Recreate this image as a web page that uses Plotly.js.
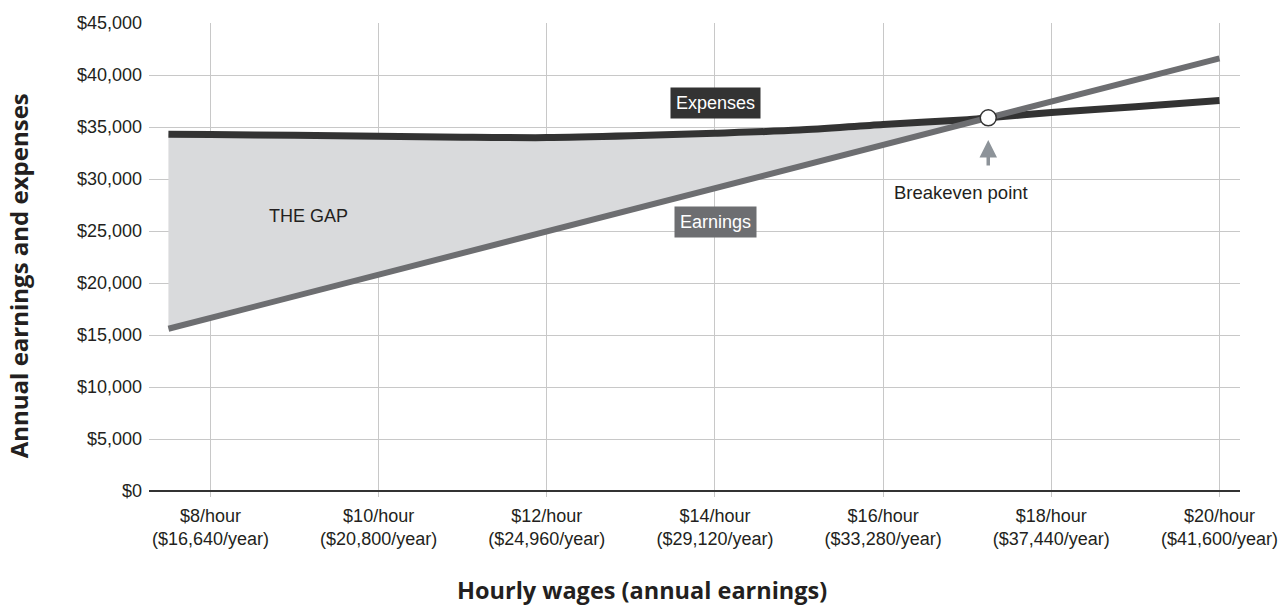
<!DOCTYPE html>
<html>
<head>
<meta charset="utf-8">
<script src="https://cdn.plot.ly/plotly-3.0.1.min.js"></script>
<style>html,body{margin:0;padding:0;background:#fff;}#chart{width:1281px;height:606px;}</style>
</head>
<body>
<div id="chart"></div>
<script>
// Hourly wage points (x)
const hourly = [7.5, 8, 9, 10, 11, 12, 13, 14, 15, 16, 17, 17.25, 18, 19, 20];
// Annual earnings
const earnings = [15600, 16640, 18720, 20800, 22880, 24960, 27040, 29120, 31200, 33280, 35360, 35880, 37440, 39520, 41600];
// Annual expenses
const expenses = [34300, 34280, 34200, 34120, 34020, 33980, 34150, 34400, 34700, 35250, 35700, 35880, 36400, 36950, 37550];
// Gap region (up to breakeven)
const gapHourly = [7.5, 8, 9, 10, 11, 12, 13, 14, 15, 16, 17, 17.25];
const gapEarnings = [15600, 16640, 18720, 20800, 22880, 24960, 27040, 29120, 31200, 33280, 35360, 35880];
const gapExpenses = [34300, 34280, 34200, 34120, 34020, 33980, 34150, 34400, 34700, 35250, 35700, 35880];
// Breakeven
const breakevenX = [17.25];
const breakevenY = [35880];
// Tick labels
const tickVals = [8, 10, 12, 14, 16, 18, 20];
const tickText = ["$8/hour<br>($16,640/year)", "$10/hour<br>($20,800/year)", "$12/hour<br>($24,960/year)", "$14/hour<br>($29,120/year)", "$16/hour<br>($33,280/year)", "$18/hour<br>($37,440/year)", "$20/hour<br>($41,600/year)"];
const yTickVals = [0, 5000, 10000, 15000, 20000, 25000, 30000, 35000, 40000, 45000];
const yTickText = ["$0", "$5,000", "$10,000", "$15,000", "$20,000", "$25,000", "$30,000", "$35,000", "$40,000", "$45,000"];

const txt = "#231f20";
const font = "Liberation Sans, Arial, sans-serif";

const traces = [
  {x: gapHourly, y: gapEarnings, mode: "lines", line: {width: 0, color: "rgba(0,0,0,0)"}, hoverinfo: "skip", showlegend: false},
  {x: gapHourly, y: gapExpenses, mode: "lines", fill: "tonexty", fillcolor: "#d9dadc", line: {width: 0, color: "rgba(0,0,0,0)", shape: "spline", smoothing: 0.8}, hoverinfo: "skip", showlegend: false},
  {x: hourly, y: expenses, mode: "lines", line: {color: "#333333", width: 7, shape: "spline", smoothing: 0.8}, showlegend: false},
  {x: hourly, y: earnings, mode: "lines", line: {color: "#6d6e71", width: 6}, showlegend: false},
  {x: breakevenX, y: breakevenY, mode: "markers", marker: {size: 16, color: "#ffffff", line: {color: "#333333", width: 1.5}}, showlegend: false}
];

const layout = {
  width: 1281, height: 606,
  margin: {l: 149, r: 41, t: 23, b: 115},
  paper_bgcolor: "#ffffff", plot_bgcolor: "#ffffff",
  font: {family: font, size: 18, color: txt},
  showlegend: false,
  xaxis: {
    range: [7.269, 20.244], tickvals: tickVals, ticktext: tickText,
    showgrid: true, gridcolor: "#c8c8c8", gridwidth: 1,
    ticks: "outside", ticklen: 5, tickcolor: "#c8c8c8", tickwidth: 1,
    zeroline: false, showline: false, ticklabelstandoff: 3,
    tickfont: {family: font, size: 18, color: txt}
  },
  yaxis: {
    range: [0, 45000], tickvals: yTickVals, ticktext: yTickText,
    showgrid: true, gridcolor: "#c8c8c8", gridwidth: 1,
    zeroline: true, zerolinecolor: "#333333", zerolinewidth: 2,
    ticks: "", showline: false, ticklabelstandoff: 6,
    tickfont: {family: font, size: 18, color: txt}
  },
  annotations: [
    {x: 14.01, y: 37300, xref: "x", yref: "y", text: "Expenses", showarrow: false,
     font: {family: font, size: 18, color: "#ffffff"}, bgcolor: "#333333", borderpad: 5},
    {x: 14.01, y: 25870, xref: "x", yref: "y", text: "Earnings", showarrow: false,
     font: {family: font, size: 18, color: "#ffffff"}, bgcolor: "#6d6e71", borderpad: 5},
    {x: 9.17, y: 26440, xref: "x", yref: "y", text: "THE GAP", showarrow: false,
     font: {family: font, size: 18, color: txt}},
    {x: 16.1, y: 28700, xref: "x", yref: "y", text: "Breakeven point", showarrow: false, xanchor: "left",
     font: {family: font, size: 18.5, color: txt}},
    {x: 17.25, y: 33750, xref: "x", yref: "y", text: "", showarrow: true, ax: 0, ay: 27,
     arrowhead: 2, arrowsize: 1, arrowwidth: 3.5, arrowcolor: "#8d9399"},
    {x: 0.452, y: -0.211, xref: "paper", yref: "paper", text: "<b>Hourly wages (annual earnings)</b>", showarrow: false,
     xanchor: "center", yanchor: "middle",
     font: {family: "Open Sans, sans-serif", size: 23.5, color: txt}},
    {x: -0.12, y: 0.459, xref: "paper", yref: "paper", text: "<b>Annual earnings and expenses</b>", showarrow: false, textangle: -90,
     xanchor: "center", yanchor: "middle",
     font: {family: "Open Sans, sans-serif", size: 24, color: txt}}
  ]
};

Plotly.newPlot("chart", traces, layout, {displayModeBar: false, staticPlot: true});
</script>
</body>
</html>
